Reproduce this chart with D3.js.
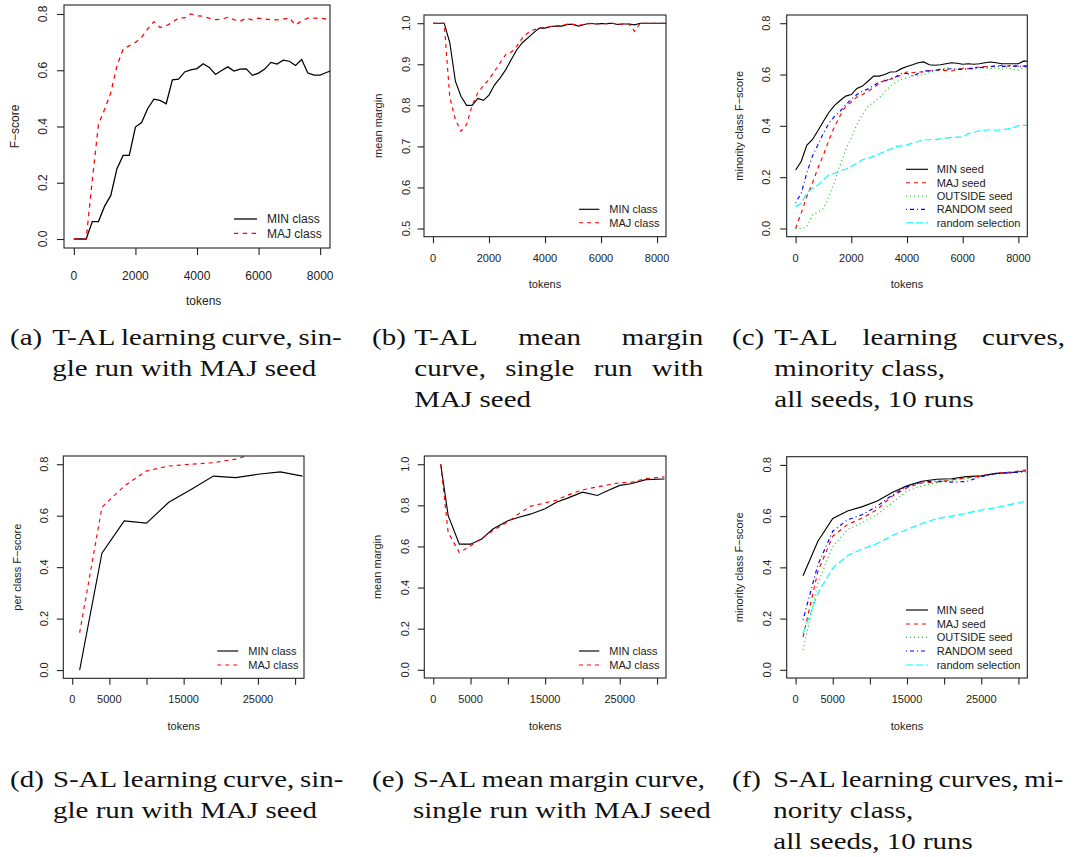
<!DOCTYPE html>
<html><head><meta charset="utf-8">
<script src="https://cdn.jsdelivr.net/npm/d3@7"></script>
<style>body{margin:0;background:#fff}svg{display:block}</style>
</head><body>
<svg id="fig" width="1078" height="857"></svg>
<script>
// ---------------- DATA ----------------
const tokensT = [0,200,400,600,800,1000,1200,1400,1600,1800,2000,2200,2400,2600,2800,3000,3200,3400,3600,3800,4000,4200,4400,4600,4800,5000,5200,5400,5600,5800,6000,6200,6400,6600,6800,7000,7200,7400,7600,7800,8000,8200,8400];
const aMIN = [0,0,0,0.062,0.062,0.117,0.155,0.25,0.297,0.297,0.398,0.414,0.464,0.497,0.493,0.481,0.566,0.568,0.594,0.601,0.606,0.623,0.61,0.585,0.599,0.612,0.597,0.604,0.605,0.582,0.59,0.604,0.628,0.622,0.636,0.632,0.617,0.638,0.59,0.583,0.583,0.592,0.6];
const aMAJ = [0,0,0,0.21,0.408,0.461,0.52,0.616,0.675,0.687,0.699,0.717,0.747,0.773,0.752,0.758,0.77,0.786,0.786,0.8,0.794,0.792,0.785,0.78,0.782,0.788,0.78,0.774,0.785,0.779,0.785,0.782,0.78,0.779,0.782,0.786,0.761,0.776,0.785,0.785,0.785,0.782,0.782];
const bMIN = [1,1,1,0.953,0.859,0.822,0.80,0.80,0.817,0.812,0.825,0.85,0.867,0.887,0.912,0.936,0.953,0.965,0.977,0.988,0.988,0.992,0.993,0.993,0.997,0.997,0.993,0.997,1.0,0.998,0.999,0.999,1.0,0.997,0.998,0.998,0.996,1.0,1.0,1.0,1.0,1.0,1.0];
const bMAJ = [1,1,1,0.82,0.765,0.737,0.753,0.80,0.83,0.848,0.863,0.883,0.904,0.924,0.93,0.945,0.965,0.977,0.984,0.988,0.99,0.992,0.993,0.995,0.997,0.997,0.995,0.997,0.999,0.998,0.999,0.999,1.0,0.997,0.998,0.998,0.98,1.0,1.0,1.0,1.0,1.0,1.0];
const cMIN = [0.228,0.261,0.324,0.346,0.381,0.418,0.453,0.48,0.499,0.516,0.522,0.546,0.555,0.574,0.594,0.594,0.60,0.61,0.611,0.623,0.631,0.638,0.646,0.649,0.638,0.636,0.638,0.642,0.646,0.644,0.64,0.642,0.64,0.642,0.646,0.649,0.646,0.642,0.642,0.642,0.642,0.653,0.65];
const cMAJ = [0.0,0.059,0.124,0.176,0.235,0.287,0.346,0.398,0.44,0.476,0.493,0.512,0.522,0.535,0.548,0.565,0.578,0.581,0.591,0.597,0.61,0.607,0.61,0.61,0.614,0.617,0.614,0.616,0.614,0.62,0.623,0.623,0.627,0.629,0.631,0.631,0.633,0.636,0.633,0.636,0.633,0.633,0.633];
const cOUT = [0.0,0.0,0.007,0.052,0.065,0.078,0.124,0.183,0.248,0.307,0.352,0.405,0.444,0.476,0.492,0.509,0.531,0.555,0.57,0.581,0.587,0.594,0.597,0.60,0.607,0.614,0.62,0.627,0.623,0.62,0.627,0.623,0.62,0.627,0.624,0.623,0.627,0.62,0.627,0.62,0.617,0.627,0.625];
const cRAND = [0.1,0.137,0.215,0.281,0.326,0.372,0.411,0.437,0.457,0.483,0.503,0.522,0.535,0.544,0.557,0.57,0.574,0.584,0.591,0.604,0.604,0.594,0.604,0.614,0.614,0.617,0.62,0.62,0.623,0.62,0.62,0.623,0.624,0.627,0.629,0.631,0.633,0.631,0.633,0.633,0.631,0.633,0.633];
const cRS = [0.085,0.098,0.137,0.157,0.17,0.189,0.209,0.215,0.226,0.231,0.242,0.255,0.268,0.274,0.281,0.29,0.30,0.309,0.32,0.322,0.326,0.333,0.339,0.346,0.346,0.346,0.349,0.352,0.355,0.356,0.356,0.369,0.375,0.381,0.383,0.385,0.383,0.385,0.388,0.392,0.401,0.402,0.402];

const tokensD = [1000,4000,7000,10000,13000,16000,19000,22000,25000,28000,31000];
const dMIN = [0.0,0.454,0.58,0.571,0.652,0.702,0.754,0.748,0.761,0.77,0.754];
const dMAJ = [0.145,0.633,0.715,0.774,0.793,0.80,0.806,0.82,0.845,0.85,0.85];

const tokensE = [1000,2000,3500,5000,6500,8000,10000,11500,13000,15000,16500,18000,20000,22000,23500,25000,26500,28500,31000];
const eMIN = [1.0,0.75,0.611,0.611,0.636,0.685,0.725,0.742,0.757,0.783,0.815,0.835,0.864,0.848,0.873,0.897,0.905,0.925,0.928];
const eMAJ = [1.0,0.668,0.57,0.603,0.64,0.677,0.72,0.76,0.795,0.812,0.825,0.85,0.875,0.89,0.9,0.91,0.912,0.93,0.938];

const tokensF = [1000,3000,5000,7000,9000,11000,13000,15000,17000,19000,21000,23000,25000,27000,29000,31000];
const fMIN = [0.367,0.502,0.591,0.62,0.637,0.659,0.692,0.718,0.736,0.744,0.746,0.754,0.757,0.767,0.77,0.777];
const fMAJ = [0.129,0.384,0.522,0.567,0.593,0.626,0.678,0.711,0.73,0.733,0.741,0.75,0.757,0.767,0.772,0.78];
const fOUT = [0.077,0.339,0.482,0.548,0.574,0.607,0.652,0.698,0.718,0.731,0.741,0.746,0.754,0.763,0.77,0.777];
const fRAND = [0.195,0.41,0.541,0.586,0.606,0.639,0.682,0.715,0.733,0.737,0.733,0.735,0.754,0.767,0.77,0.773];
const fRS = [0.142,0.299,0.397,0.446,0.472,0.493,0.524,0.548,0.571,0.59,0.60,0.611,0.624,0.633,0.646,0.659];

const ticksT = [0,2000,4000,6000,8000];
const ticksS = [0,5000,10000,15000,20000,25000,30000];
const labelsS = [0,5000,15000,25000];
const ticksF08 = [0,0.2,0.4,0.6,0.8];
const ticksM = [0.5,0.6,0.7,0.8,0.9,1.0];
const ticksM10 = [0,0.2,0.4,0.6,0.8,1.0];

const classNames = ["MIN class","MAJ class"];
const seedNames = ["MIN seed","MAJ seed","OUTSIDE seed","RANDOM seed","random selection"];

const captions = [
  {label:"(a)", lines:[["T-AL learning curve, sin-",true],["gle run with MAJ seed",false]]},
  {label:"(b)", lines:[["T-AL mean margin",true],["curve, single run with",true],["MAJ seed",false]]},
  {label:"(c)", lines:[["T-AL learning curves,",true],["minority class,",false],["all seeds, 10 runs",false]]},
  {label:"(d)", lines:[["S-AL learning curve, sin-",true],["gle run with MAJ seed",false]]},
  {label:"(e)", lines:[["S-AL mean margin curve,",true],["single run with MAJ seed",false]]},
  {label:"(f)", lines:[["S-AL learning curves, mi-",true],["nority class,",false],["all seeds, 10 runs",false]]}
];

// ---------------- STYLES ----------------
const ST = {
  black:{c:"#000000", d:null},
  red:{c:"#ff0000", d:"4,4"},
  green:{c:"#00cd00", d:"1,3"},
  blue:{c:"#0000ff", d:"1,3,4,3"},
  cyan:{c:"#00ffff", d:"7,3"}
};

const panels = [
  {box:[64,330,5,248], xd:[-320,8320], yd:[-0.032,0.832], xt:ticksT, xl:ticksT, yt:ticksF08, fs:12, tl:7,
   xlb:280, ylbx:46.7, ylab:"F\u2212score", ylabx:19, tokx:203.7, toky:305,
   series:[[tokensT,aMIN,"black"],[tokensT,aMAJ,"red"]], names:classNames,
   leg:{x1:234,x2:257,tx:267,ys:[219,233.3]}, sc:1.1},
  {box:[424,666,15,236.7], xd:[-320,8320], yd:[0.48,1.02], xt:ticksT, xl:ticksT, yt:ticksM, fs:11, tl:6.5,
   xlb:261.7, ylbx:410, ylab:"mean margin", ylabx:381.7, tokx:545, toky:288.3,
   series:[[tokensT,bMIN,"black"],[tokensT,bMAJ,"red"]], names:classNames,
   leg:{x1:579,x2:599.3,tx:609.3,ys:[209.3,222.7]}, sc:1},
  {box:[786.7,1027.3,15,236.7], xd:[-320,8320], yd:[-0.032,0.832], xt:ticksT, xl:ticksT, yt:ticksF08, fs:11, tl:6.5,
   xlb:261.7, ylbx:770, ylab:"minority class F\u2212score", ylabx:742.7, tokx:907, toky:288.3,
   series:[[tokensT,cMIN,"black"],[tokensT,cMAJ,"red"],[tokensT,cOUT,"green"],[tokensT,cRAND,"blue"],[tokensT,cRS,"cyan"]], names:seedNames,
   leg:{x1:906,x2:928,tx:936.7,ys:[169.3,182.7,196,209.3,222.7]}, sc:1},
  {box:[63.3,304,456,678.3], xd:[-1200,31200], yd:[-0.032,0.832], xt:ticksS, xl:labelsS, yt:ticksF08, fs:11, tl:6.5,
   xlb:703.3, ylbx:48.3, ylab:"per class F\u2212score", ylabx:20.7, tokx:183.7, toky:730,
   series:[[tokensD,dMIN,"black"],[tokensD,dMAJ,"red"]], names:classNames,
   leg:{x1:217.3,x2:238.3,tx:248.3,ys:[651,665]}, sc:1},
  {box:[424.3,666,456,678], xd:[-1200,31200], yd:[-0.04,1.04], xt:ticksS, xl:labelsS, yt:ticksM10, fs:11, tl:6.5,
   xlb:703.3, ylbx:409.3, ylab:"mean margin", ylabx:381, tokx:545.2, toky:730,
   series:[[tokensE,eMIN,"black"],[tokensE,eMAJ,"red"]], names:classNames,
   leg:{x1:579,x2:599.3,tx:609.3,ys:[651,665]}, sc:1},
  {box:[786.7,1027.3,456.7,678], xd:[-1200,31200], yd:[-0.032,0.832], xt:ticksS, xl:labelsS, yt:ticksF08, fs:11, tl:6.5,
   xlb:703.3, ylbx:770.7, ylab:"minority class F\u2212score", ylabx:742.7, tokx:907, toky:730,
   series:[[tokensF,fMIN,"black"],[tokensF,fMAJ,"red"],[tokensF,fOUT,"green"],[tokensF,fRAND,"blue"],[tokensF,fRS,"cyan"]], names:seedNames,
   leg:{x1:906,x2:928,tx:936.7,ys:[610,624,637.3,651,665]}, sc:1}
];

const svg = d3.select("#fig");
const SANS = "'Liberation Sans', Arial, Helvetica, sans-serif";
const TXT = "#222";

function dashScaled(d, s){ return d ? d.split(",").map(v=>(+v*s).toFixed(2)).join(",") : null; }

panels.forEach((p,i)=>{
  const [L,R,T,B] = p.box;
  const x = d3.scaleLinear().domain(p.xd).range([L,R]);
  const y = d3.scaleLinear().domain(p.yd).range([B,T]);
  const g = svg.append("g").attr("font-family",SANS).attr("font-size",p.fs).attr("fill",TXT);
  const cid = "clip"+i;
  svg.append("clipPath").attr("id",cid).append("rect").attr("x",L).attr("y",T).attr("width",R-L).attr("height",B-T);

  const line = d3.line().x(d=>x(d[0])).y(d=>y(d[1]));
  p.series.forEach(([xs,ys,st])=>{
    const pts = xs.map((v,k)=>[v,ys[k]]);
    g.append("path").attr("clip-path",`url(#${cid})`).attr("d",line(pts))
      .attr("fill","none").attr("stroke",ST[st].c).attr("stroke-width",1.15*p.sc)
      .attr("stroke-dasharray",dashScaled(ST[st].d,p.sc));
  });

  g.append("rect").attr("x",L).attr("y",T).attr("width",R-L).attr("height",B-T)
    .attr("fill","none").attr("stroke","#222").attr("stroke-width",1.1);

  const xa = d3.axisBottom(x).tickValues(p.xt).tickSize(p.tl).tickFormat("");
  const xg = g.append("g").attr("transform",`translate(0,${B})`).call(xa);
  xg.select(".domain").remove();
  xg.selectAll("line").attr("stroke","#222").attr("stroke-width",1.1);
  g.selectAll(null).data(p.xl).enter().append("text")
    .attr("x",d=>x(d)).attr("y",p.xlb).attr("text-anchor","middle").text(d=>d);

  const ya = d3.axisLeft(y).tickValues(p.yt).tickSize(p.tl).tickFormat("");
  const yg = g.append("g").attr("transform",`translate(${L},0)`).call(ya);
  yg.select(".domain").remove();
  yg.selectAll("line").attr("stroke","#222").attr("stroke-width",1.1);
  g.selectAll(null).data(p.yt).enter().append("text")
    .attr("transform",d=>`translate(${p.ylbx},${y(d)}) rotate(-90)`)
    .attr("text-anchor","middle").text(d=>d3.format(".1f")(d));

  g.append("text").attr("x",p.tokx).attr("y",p.toky).attr("text-anchor","middle").text("tokens");
  g.append("text").attr("transform",`translate(${p.ylabx},${(T+B)/2}) rotate(-90)`)
    .attr("text-anchor","middle").text(p.ylab);

  p.series.forEach(([xs,ys,st],k)=>{
    const ly = p.leg.ys[k];
    g.append("line").attr("x1",p.leg.x1).attr("x2",p.leg.x2).attr("y1",ly).attr("y2",ly)
      .attr("stroke",ST[st].c).attr("stroke-width",1.15*p.sc).attr("stroke-dasharray",dashScaled(ST[st].d,p.sc));
    g.append("text").attr("x",p.leg.tx).attr("y",ly+p.fs*0.36).text(p.names[k]);
  });
});

// ---------------- CAPTIONS ----------------
const CAP_FS = 23;
const MINGAP = 0.2; // minimum inter-word gap in em
const capG = svg.append("g").attr("font-family","'Liberation Serif', 'Times New Roman', serif")
  .attr("font-size",CAP_FS).attr("fill","#111");
function measure(t){
  const el = capG.append("text").text(t);
  const w = el.node().getComputedTextLength();
  el.remove(); return w;
}
const SX = 264 / measure("gle run with MAJ seed");
const capPos = [
  {lx:10, left:52.3, right:341.7, base:[345,376,407]},
  {lx:372, left:414.3, right:703.3, base:[345,376,407]},
  {lx:732, left:774.3, right:1065, base:[345,376,407]},
  {lx:10, left:53, right:343.3, base:[787,818,849]},
  {lx:372, left:413, right:705, base:[787,818,849]},
  {lx:732, left:773.3, right:1063.3, base:[787,818,849]}
];
captions.forEach((c,i)=>{
  const pos = capPos[i];
  capG.append("text").attr("transform",`translate(${pos.lx},${pos.base[0]}) scale(${SX},1)`).text(c.label);
  c.lines.forEach(([t,just],j)=>{
    const b = pos.base[j];
    if(!just){
      capG.append("text").attr("transform",`translate(${pos.left},${b}) scale(${SX},1)`).text(t);
    } else {
      const words = t.split(" ");
      const raw = words.map(w=>measure(w));
      const avail = pos.right-pos.left;
      const fit = avail / (d3.sum(raw) + (words.length-1)*MINGAP*CAP_FS);
      const sx = Math.min(SX, fit);
      const ws = raw.map(w=>w*sx);
      const gap = (avail-d3.sum(ws))/(words.length-1);
      let cx = pos.left;
      words.forEach((w,k)=>{
        capG.append("text").attr("transform",`translate(${cx},${b}) scale(${sx},1)`).text(w);
        cx += ws[k]+gap;
      });
    }
  });
});
</script>
</body></html>
